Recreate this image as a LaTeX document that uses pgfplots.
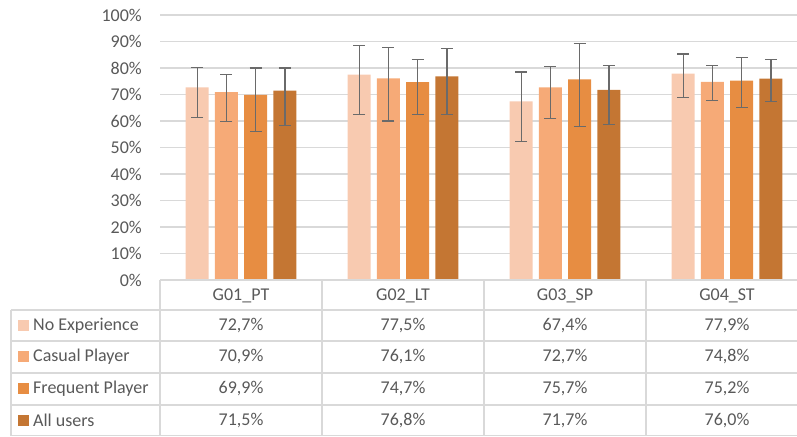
\documentclass[border=0pt]{standalone}
\usepackage{pgfplots}
\usepackage{pgfplotstable}
\pgfplotsset{compat=1.18}
\usepackage{fontspec}
\setmainfont{Carlito}
\definecolor{cNE}{HTML}{F8CAB0}
\definecolor{cCP}{HTML}{F6AA77}
\definecolor{cFP}{HTML}{E78D42}
\definecolor{cAU}{HTML}{C47633}
\definecolor{gridc}{HTML}{D9D9D9}
\definecolor{txt}{HTML}{595959}
\definecolor{errc}{HTML}{6A6A6A}
\pgfplotstableread{
x ne nep nem cp cpp cpm fp fpp fpm au aup aum
0 72.7 7.5 11.5 70.9 6.6 11.2 69.9 10.1 13.7 71.5 8.5 13.1
1 77.5 11.0 15.0 76.1 11.7 16.1 74.7 8.6 12.2 76.8 10.4 14.3
2 67.4 11.1 15.0 72.7 7.8 11.7 75.7 13.6 17.7 71.7 9.1 13.0
3 77.9 7.4 8.9 74.8 6.0 7.2 75.2 8.6 10.0 76.0 7.3 8.5
}\data
\newcommand{\tf}{\fontsize{18}{21}\selectfont\color{txt}}
\begin{document}
\begin{tikzpicture}[x=1pt,y=1pt]
\useasboundingbox (0,0) rectangle (797,436);
\begin{axis}[
  at={(160pt,156pt)}, anchor=south west,
  scale only axis, width=648pt, height=265pt,
  xmin=-0.5, xmax=3.5, ymin=0, ymax=100,
  axis line style={draw=none},
  xtick=\empty,
  ytick={0,10,...,100},
  yticklabels={0\%,10\%,20\%,30\%,40\%,50\%,60\%,70\%,80\%,90\%,100\%},
  yticklabel style={font=\tf, anchor=east, inner sep=0pt, xshift=-18pt},
  major tick length=0pt,
  ymajorgrids, major grid style={draw=gridc, line width=1.3pt},
  ybar=6.3pt, bar width=23pt,
  clip=false,
  error bars/y dir=both, error bars/y explicit,
  error bars/error bar style={line width=1.1pt, color=errc},
  error bars/error mark options={rotate=90, mark size=6pt, line width=1.1pt, color=errc},
]
\addplot[fill=cNE, draw=none] table[x=x, y=ne, y error plus=nep, y error minus=nem]{\data};
\addplot[fill=cCP, draw=none] table[x=x, y=cp, y error plus=cpp, y error minus=cpm]{\data};
\addplot[fill=cFP, draw=none] table[x=x, y=fp, y error plus=fpp, y error minus=fpm]{\data};
\addplot[fill=cAU, draw=none] table[x=x, y=au, y error plus=aup, y error minus=aum]{\data};
\end{axis}
% data table grid
\begin{scope}[draw=gridc, line width=1.3pt]
\draw (160,156) -- (810,156);
\foreach \yy in {126,95,63,31,0.8} \draw (11,\yy) -- (810,\yy);
\draw (11,126) -- (11,0);
\foreach \xx in {160,322,484,646} \draw (\xx,156) -- (\xx,0);
\end{scope}
% header
\foreach \lab [count=\i from 0] in {G01\_PT,G02\_LT,G03\_SP,G04\_ST}
  \node[font=\tf, anchor=base] at (241+162*\i,135) {\lab};
% legend column
\foreach \lab/\col/\yy in {No Experience/cNE/110.5, Casual Player/cCP/79, Frequent Player/cFP/47, All users/cAU/15.5}{
  \fill[\col] (18,\yy-5.5) rectangle (29,\yy+5.5);
  \node[font=\tf, anchor=west, inner sep=0pt] at (33,\yy) {\lab};
}
% values
\foreach \c/\yy in {ne/110.5, cp/79, fp/47, au/15.5}{
  \foreach \r in {0,1,2,3}{
    \pgfplotstablegetelem{\r}{\c}\of\data
    \node[font=\tf] at (241+162*\r,\yy) {\pgfmathprintnumber[fixed,precision=1,fixed zerofill,use comma,assume math mode=true]{\pgfplotsretval}\%};
  }
}
\end{tikzpicture}
\end{document}
